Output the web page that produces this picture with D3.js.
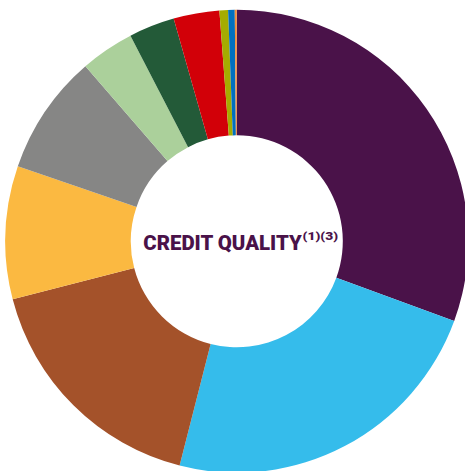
<!DOCTYPE html>
<html>
<head>
<meta charset="utf-8">
<script src="https://cdn.jsdelivr.net/npm/d3@7"></script>
<style>
  html, body { margin: 0; padding: 0; background: #fff; overflow: hidden; }
</style>
</head>
<body>
<svg id="chart" width="465" height="471"></svg>
<script>
const categories = ["AAA", "AA", "A", "BBB", "BB", "B", "CCC", "CC", "C", "D", "Not Rated"];
const values = [30.6, 23.4, 17.0, 9.3, 8.4, 3.75, 3.2, 3.2, 0.6, 0.46, 0.14];
const colors = ["#4a1249", "#35bceb", "#a4522a", "#fbb941", "#868685", "#abd09b", "#235a38", "#d20008", "#a5ac00", "#0070c0", "#f08a3a"];
const title = "CREDIT QUALITY";
const titleNote = "(1)(3)";

const svg = d3.select("#chart");
const cx = 236.8, cy = 241.3, outerR = 231.5, innerR = 106;

const data = categories.map((c, i) => ({ cat: c, value: values[i] }));
const color = d3.scaleOrdinal().domain(categories).range(colors);
const pie = d3.pie().value(d => d.value).sort(null);
const arc = d3.arc().innerRadius(innerR).outerRadius(outerR);

const g = svg.append("g").attr("transform", `translate(${cx},${cy})`);
g.selectAll("path")
  .data(pie(data))
  .join("path")
  .attr("d", arc)
  .attr("fill", d => color(d.data.cat));

const t = g.append("text")
  .attr("fill", "#4a1249")
  .attr("font-family", "Roboto, sans-serif")
  .attr("font-weight", 900);
t.append("tspan")
  .attr("x", -93.5)
  .attr("y", 8.7)
  .attr("font-size", 19.5)
  .attr("textLength", 158.5)
  .attr("lengthAdjust", "spacingAndGlyphs")
  .text(title);
t.append("tspan")
  .attr("x", 65.8)
  .attr("y", -1.8)
  .attr("font-size", 11)
  .attr("textLength", 35.5)
  .attr("lengthAdjust", "spacingAndGlyphs")
  .text(titleNote);
</script>
</body>
</html>
